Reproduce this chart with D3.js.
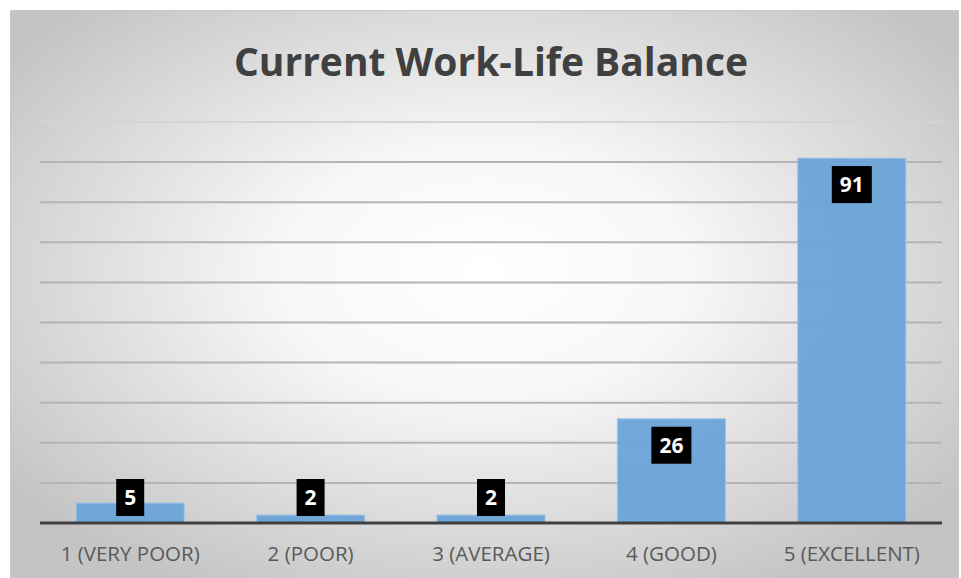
<!DOCTYPE html>
<html>
<head>
<meta charset="utf-8">
<script src="https://cdn.jsdelivr.net/npm/d3@7"></script>
<style>
    body { margin: 0; background: #fff; }
    svg { display: block; }
</style>
</head>
<body>
<div id="chart"></div>
<script>
'use strict';

var categories = ['1 (VERY POOR)', '2 (POOR)', '3 (AVERAGE)', '4 (GOOD)', '5 (EXCELLENT)'];
var counts = [5, 2, 2, 26, 91];
var gridTicks = [0, 10, 20, 30, 40, 50, 60, 70, 80, 90, 100];
var chartTitle = 'Current Work-Life Balance';

var width = 961, height = 578;
var margin = {top: 122, right: 19, bottom: 55, left: 40};

var svg = d3.select('#chart').append('svg')
    .attr('width', width)
    .attr('height', height);

var defs = svg.append('defs');
var grad = defs.append('radialGradient')
    .attr('id', 'bg')
    .attr('cx', '50%').attr('cy', '45%').attr('r', '62%');
grad.append('stop').attr('offset', '0%').attr('stop-color', '#ffffff');
grad.append('stop').attr('offset', '35%').attr('stop-color', '#f7f7f7');
grad.append('stop').attr('offset', '100%').attr('stop-color', '#c4c4c4');

// chart frame
svg.append('rect')
    .attr('x', 10.5).attr('y', 10.5)
    .attr('width', 948).attr('height', 580)
    .attr('fill', 'url(#bg)')
    .attr('stroke', '#c8c8c8')
    .attr('stroke-width', 1);

svg.append('text')
    .attr('x', 491).attr('y', 76)
    .attr('text-anchor', 'middle')
    .attr('font-family', 'Open Sans, Lato, sans-serif')
    .attr('font-weight', 'bold')
    .attr('font-size', 39)
    .attr('fill', '#404040')
    .text(chartTitle);

var innerW = width - margin.left - margin.right;
var baseY = 523;

var x = d3.scaleBand()
    .domain(categories)
    .range([margin.left, margin.left + innerW])
    .paddingInner(0.4)
    .paddingOuter(0.2);

var y = d3.scaleLinear()
    .domain([0, 100])
    .range([baseY, margin.top]);

// gridlines
svg.append('g')
    .selectAll('line')
    .data(gridTicks.slice(1))
    .enter().append('line')
    .attr('x1', margin.left).attr('x2', margin.left + innerW)
    .attr('y1', function(d) { return y(d); })
    .attr('y2', function(d) { return y(d); })
    .attr('stroke', function(d) { return d === 100 ? '#d4d4d4' : '#b4b4b4'; })
    .attr('stroke-width', 2);

// bars
svg.append('g')
    .selectAll('rect')
    .data(counts)
    .enter().append('rect')
    .attr('x', function(d, i) { return x(categories[i]); })
    .attr('y', function(d) { return y(d); })
    .attr('width', x.bandwidth())
    .attr('height', function(d) { return baseY - y(d); })
    .attr('fill', '#6da4d9')
    .attr('stroke', '#a6c8ea')
    .attr('stroke-width', 1)
    .attr('fill-opacity', 0.97);

// baseline
var xAxis = svg.append('g')
    .attr('transform', 'translate(0,' + baseY + ')')
    .call(d3.axisBottom(x).tickSize(0).tickPadding(23));
xAxis.select('.domain')
    .attr('stroke', '#404040')
    .attr('stroke-width', 3)
    .attr('d', 'M' + margin.left + ',0H' + (margin.left + innerW));
xAxis.selectAll('text')
    .attr('font-family', 'Open Sans, Lato, sans-serif')
    .attr('font-size', 20.5)
    .attr('fill', '#595959');

// value labels
var boxH = 37;
var labels = svg.append('g')
    .selectAll('g')
    .data(counts)
    .enter().append('g')
    .attr('transform', function(d, i) {
        var cx = x(categories[i]) + x.bandwidth() / 2;
        var top = Math.min(y(d) + 8, baseY - 44);
        return 'translate(' + cx + ',' + top + ')';
    });
var boxes = labels.append('rect')
    .attr('y', 0).attr('height', boxH)
    .attr('fill', '#000');
labels.append('text')
    .attr('x', 0).attr('y', boxH / 2 + 7.5)
    .attr('text-anchor', 'middle')
    .attr('font-family', 'Open Sans, Lato, sans-serif')
    .attr('font-weight', 'bold')
    .attr('font-size', 21)
    .attr('fill', '#fff')
    .text(function(d) { return d; })
    .each(function() {
        var w = this.getComputedTextLength() + 16;
        d3.select(this.parentNode).select('rect')
            .attr('x', -w / 2)
            .attr('width', w);
    });
</script>
</body>
</html>
